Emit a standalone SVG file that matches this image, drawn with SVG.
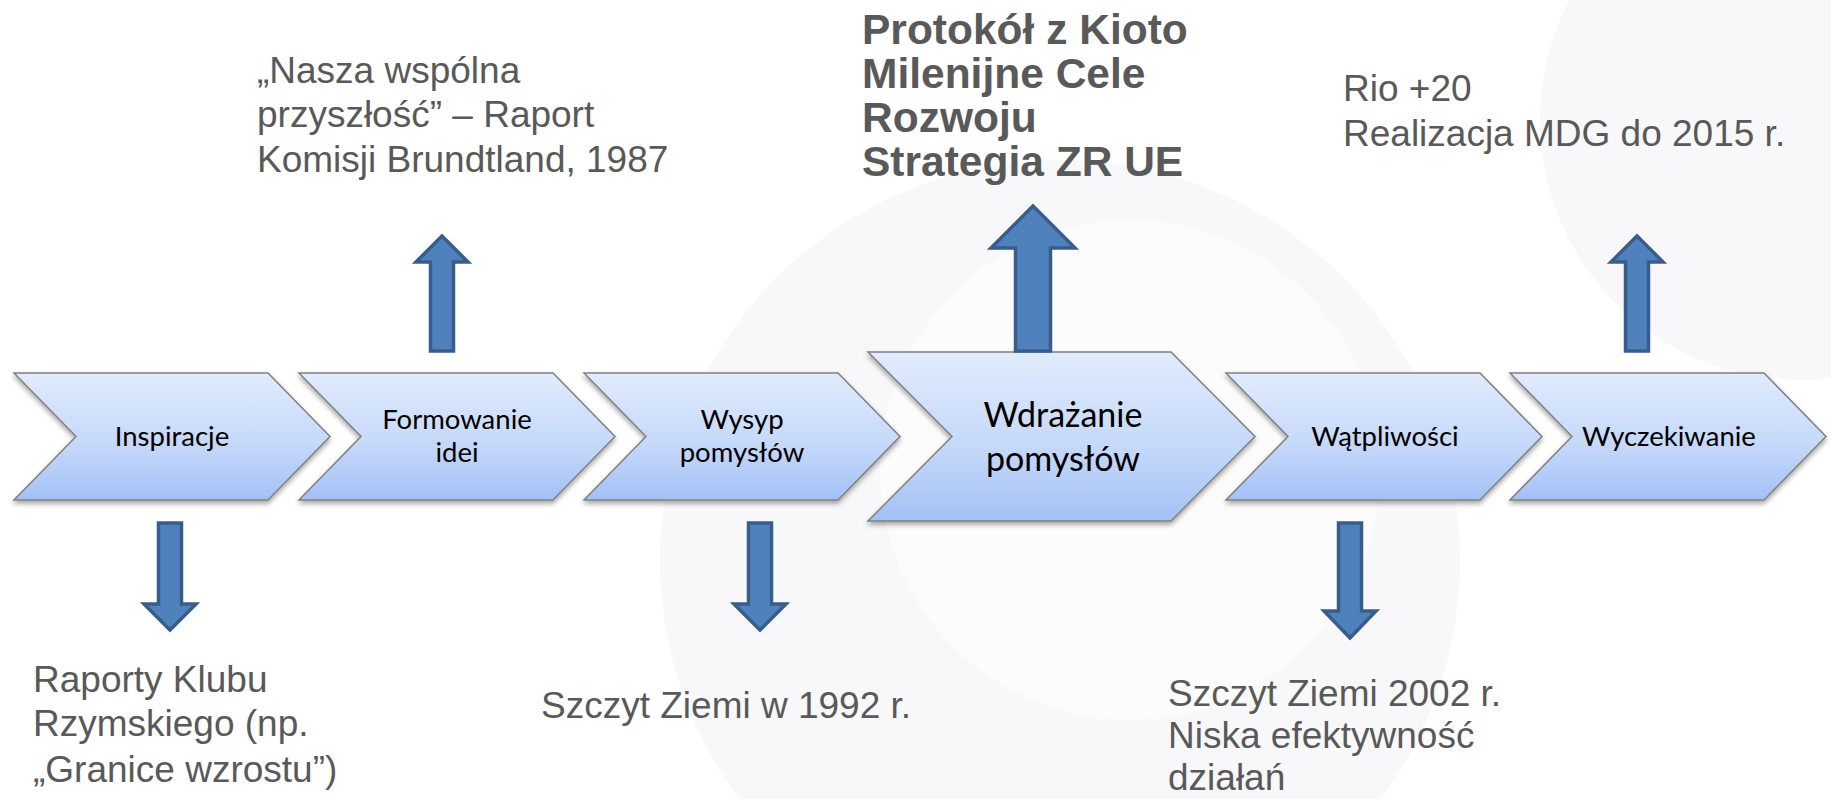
<svg xmlns="http://www.w3.org/2000/svg" width="1831" height="799" viewBox="0 0 1831 799">
  <defs>
    <linearGradient id="chevFill" x1="0" y1="0" x2="0" y2="1">
      <stop offset="0" stop-color="#E1EBFD"/>
      <stop offset="0.55" stop-color="#C6D9FA"/>
      <stop offset="1" stop-color="#A3C1F6"/>
    </linearGradient>
    <filter id="shadow" x="-5%" y="-10%" width="110%" height="130%">
      <feDropShadow dx="0" dy="3" stdDeviation="2.5" flood-color="#000" flood-opacity="0.35"/>
    </filter>
    <style>
      .chev { fill: url(#chevFill); stroke: #808080; stroke-width: 1.5; stroke-linejoin: miter; filter: url(#shadow); }
      .lbl { font-family: Lato, "Open Sans", "DejaVu Sans", sans-serif; font-size: 27.5px; fill: #000; text-anchor: middle; }
      .lbl-big { font-size: 34px; }
      .note { font-family: "Liberation Sans", Arial, sans-serif; font-size: 37px; fill: #595959; }
      .note-bold { font-family: "Liberation Sans", Arial, sans-serif; font-size: 42.5px; font-weight: bold; fill: #595959; }
      .arrow { fill: #4F81BD; stroke: #385D8A; stroke-width: 3.5; stroke-linejoin: miter; }
      .wm { fill: #F8F8FA; }
    </style>
  </defs>

  <rect width="1831" height="799" fill="#FFFFFF"/>

  <!-- faint background watermark -->
  <g id="watermark">
    <circle class="wm" cx="1060" cy="560" r="400"/>
    <circle cx="1130" cy="470" r="250" fill="#FCFCFD"/>
    <circle class="wm" cx="1800" cy="120" r="260"/>
  </g>

  <!-- process chevrons -->
  <g id="inspiracje">
    <polygon class="chev" points="14,373 268,373 330,436.5 268,500 14,500 76,436.5"/>
    <text class="lbl" x="172" y="446">Inspiracje</text>
  </g>
  <g id="formowanie-idei">
    <polygon class="chev" points="299,373 553,373 615,436.5 553,500 299,500 361,436.5"/>
    <text class="lbl" x="457" y="429">Formowanie</text>
    <text class="lbl" x="457" y="462">idei</text>
  </g>
  <g id="wysyp-pomyslow">
    <polygon class="chev" points="584,373 838,373 900,436.5 838,500 584,500 646,436.5"/>
    <text class="lbl" x="742" y="429">Wysyp</text>
    <text class="lbl" x="742" y="462">pomysłów</text>
  </g>
  <g id="wdrazanie-pomyslow">
    <polygon class="chev" points="868,352 1171,352 1255,436.5 1171,521 868,521 952,436.5"/>
    <text class="lbl lbl-big" x="1063" y="427">Wdrażanie</text>
    <text class="lbl lbl-big" x="1063" y="471">pomysłów</text>
  </g>
  <g id="watpliwosci">
    <polygon class="chev" points="1226,373 1480,373 1542,436.5 1480,500 1226,500 1288,436.5"/>
    <text class="lbl" x="1385" y="446">Wątpliwości</text>
  </g>
  <g id="wyczekiwanie">
    <polygon class="chev" points="1510,373 1764,373 1826,436.5 1764,500 1510,500 1572,436.5"/>
    <text class="lbl" x="1669" y="446">Wyczekiwanie</text>
  </g>

  <!-- block arrows from stages to their milestones -->
  <g id="connectors">
    <polygon class="arrow" points="442,236 468,262 453.5,262 453.5,351 430.5,351 430.5,262 416,262"/>
    <polygon class="arrow" points="1033,206 1075,248 1050.5,248 1050.5,351 1015.5,351 1015.5,248 991,248"/>
    <polygon class="arrow" points="1637,236 1663,262 1648.5,262 1648.5,351 1625.5,351 1625.5,262 1611,262"/>
    <polygon class="arrow" points="158.5,523 181.5,523 181.5,604 196,604 170,630 144,604 158.5,604"/>
    <polygon class="arrow" points="748.5,523 771.5,523 771.5,604 786,604 760,630 734,604 748.5,604"/>
    <polygon class="arrow" points="1338.5,523 1361.5,523 1361.5,611 1376,611 1350,638 1324,611 1338.5,611"/>
  </g>

  <!-- milestone notes -->
  <g id="note-brundtland">
    <text class="note" x="257" y="83">„Nasza wspólna</text>
    <text class="note" x="257" y="127">przyszłość” – Raport</text>
    <text class="note" x="257" y="172">Komisji Brundtland, 1987</text>
  </g>
  <g id="note-kioto">
    <text class="note-bold" x="862" y="44">Protokół z Kioto</text>
    <text class="note-bold" x="862" y="88">Milenijne Cele</text>
    <text class="note-bold" x="862" y="132">Rozwoju</text>
    <text class="note-bold" x="862" y="176">Strategia ZR UE</text>
  </g>
  <g id="note-rio">
    <text class="note" x="1343" y="101">Rio +20</text>
    <text class="note" x="1343" y="146">Realizacja MDG do 2015 r.</text>
  </g>
  <g id="note-klub-rzymski">
    <text class="note" x="33" y="692">Raporty Klubu</text>
    <text class="note" x="33" y="736">Rzymskiego (np.</text>
    <text class="note" x="33" y="782">„Granice wzrostu”)</text>
  </g>
  <g id="note-1992">
    <text class="note" x="541" y="718">Szczyt Ziemi w 1992 r.</text>
  </g>
  <g id="note-2002">
    <text class="note" x="1168" y="706">Szczyt Ziemi 2002 r.</text>
    <text class="note" x="1168" y="748">Niska efektywność</text>
    <text class="note" x="1168" y="790">działań</text>
  </g>
</svg>
